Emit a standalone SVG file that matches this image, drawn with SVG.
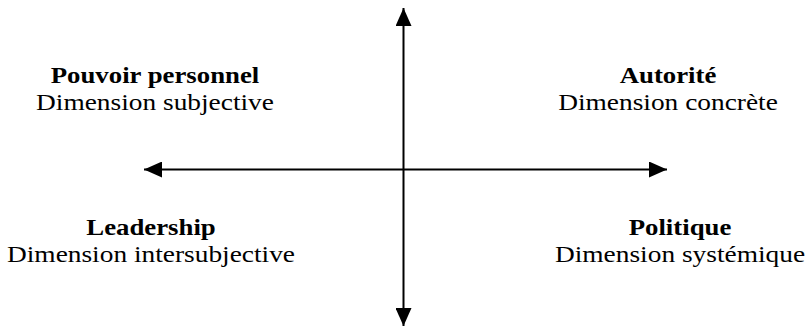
<svg xmlns="http://www.w3.org/2000/svg" width="806" height="331" viewBox="0 0 806 331">
<style>
text{font-family:"Liberation Serif","Times New Roman",serif;font-size:23.5px;fill:#000;text-anchor:middle}
.b{font-weight:bold}
.ax{stroke:#000;stroke-width:2;fill:none}
</style>
<defs>
<marker id="ah" viewBox="0 0 10 10" refX="10" refY="5" markerWidth="18" markerHeight="16" markerUnits="userSpaceOnUse" orient="auto-start-reverse" preserveAspectRatio="none">
<path d="M0,0 L10,5 L0,10 Z" fill="#000"/>
</marker>
</defs>
<g id="connectors">
<line class="ax" x1="403.5" y1="8" x2="403.5" y2="326" marker-start="url(#ah)" marker-end="url(#ah)"/>
<line class="ax" x1="144" y1="169.5" x2="667" y2="169.5" marker-start="url(#ah)" marker-end="url(#ah)"/>
</g>
<g id="pouvoir">
<text class="b" transform="translate(155,83) scale(1.14,1)">Pouvoir personnel</text>
<text transform="translate(155,110) scale(1.165,1)">Dimension subjective</text>
</g>
<g id="autorite">
<text class="b" transform="translate(668,83) scale(1.14,1)">Autorité</text>
<text transform="translate(668,110) scale(1.165,1)">Dimension concrète</text>
</g>
<g id="leadership">
<text class="b" transform="translate(151,235) scale(1.14,1)">Leadership</text>
<text transform="translate(151,262) scale(1.165,1)">Dimension intersubjective</text>
</g>
<g id="politique">
<text class="b" transform="translate(680,235) scale(1.14,1)">Politique</text>
<text transform="translate(680,262) scale(1.165,1)">Dimension systémique</text>
</g>
</svg>
